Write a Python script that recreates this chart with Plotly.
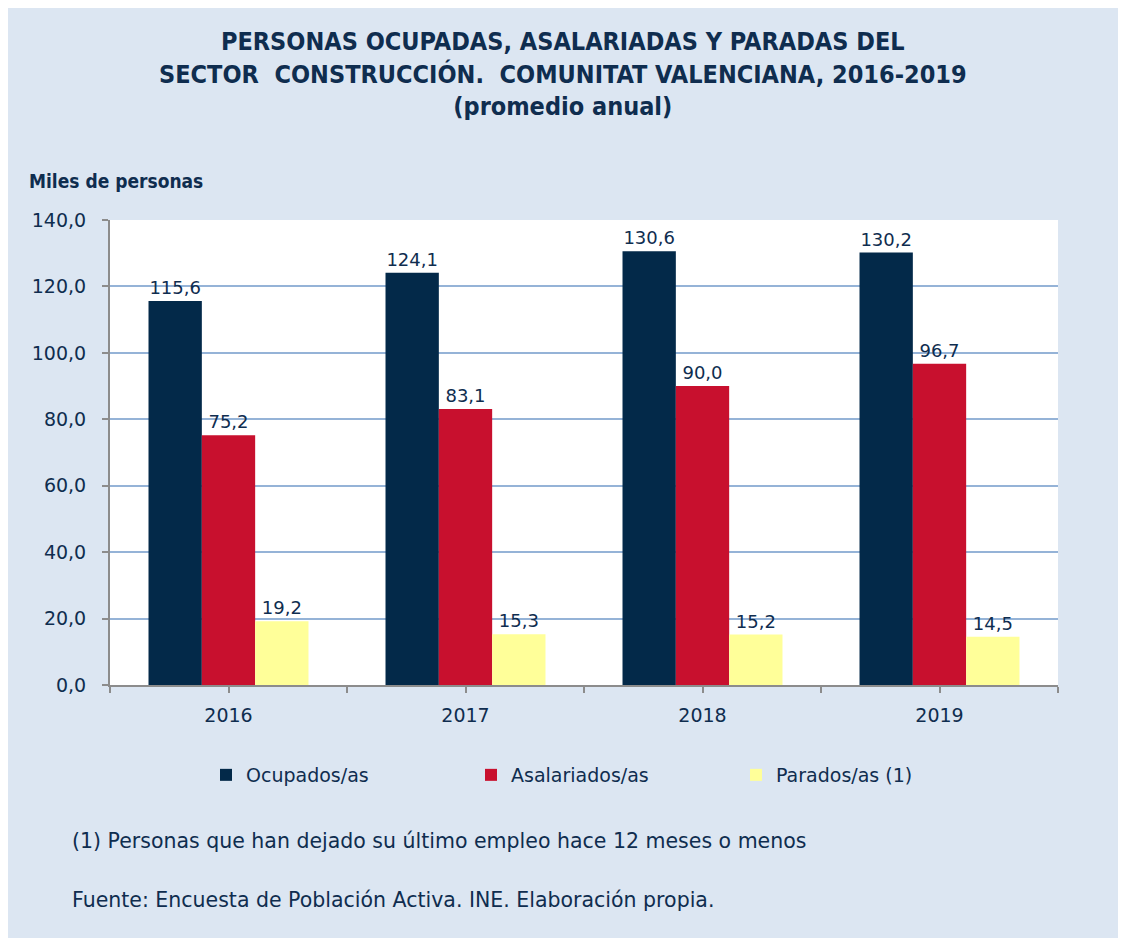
import plotly.graph_objects as go

years = ["2016", "2017", "2018", "2019"]
ocupados = [115.6, 124.1, 130.6, 130.2]
asalariados = [75.2, 83.1, 90.0, 96.7]
parados = [19.2, 15.3, 15.2, 14.5]
series_names = ["Ocupados/as", "Asalariados/as", "Parados/as (1)"]
colors = ["#032949", "#C8102E", "#FFFF99"]

navy = "#0F2D4F"
num_font = "DejaVu Sans, Verdana, sans-serif"
narrow_font = "Liberation Sans Narrow, DejaVu Sans Condensed, Arial Narrow, sans-serif"

xpos = list(range(len(years)))

fig = go.Figure()
for name, vals, col in zip(series_names, [ocupados, asalariados, parados], colors):
    fig.add_trace(go.Bar(
        x=xpos, y=vals, name=name,
        marker=dict(color=col, line=dict(width=0)),
        texttemplate="%{y:.1f}", textposition="outside",
        textfont=dict(family=num_font, size=18, color=navy),
        cliponaxis=False,
    ))

OFF = 8  # page body margin
W, H = 1126, 938
L, R, T, B = 102, 76, 212, 261
pw = W - L - R
ph = H - T - B

def px_x(px):
    return (px - OFF - L) / pw

def px_y(py):
    return (H - B - (py - OFF)) / ph

tickvals = [i / 2 - 0.5 for i in range(2 * len(years) + 1)]
ticktext = []
for v in tickvals:
    if abs(v - round(v)) < 1e-9 and 0 <= round(v) < len(years):
        ticktext.append(years[int(round(v))])
    else:
        ticktext.append("")

fig.update_layout(
    width=W, height=H,
    margin=dict(l=L, r=R, t=T, b=B, autoexpand=False),
    paper_bgcolor="#DCE6F2",
    plot_bgcolor="white",
    separators=",.",
    barmode="group",
    bargap=0.325,
    bargroupgap=0,
    showlegend=True,
    legend=dict(
        orientation="h",
        x=px_x(206), xanchor="left",
        y=px_y(775), yanchor="middle",
        entrywidth=220, entrywidthmode="pixels",
        font=dict(family=num_font, size=19, color=navy),
        bgcolor="rgba(0,0,0,0)",
        itemclick=False,
    ),
    xaxis=dict(
        range=[-0.5, len(years) - 0.5],
        tickvals=tickvals, ticktext=ticktext,
        ticks="outside", ticklen=6, tickwidth=2, tickcolor="#8C8C8C",
        ticklabelstandoff=6,
        showline=True, linecolor="#8C8C8C", linewidth=2,
        showgrid=False, zeroline=False,
        tickfont=dict(family=num_font, size=19, color=navy),
    ),
    yaxis=dict(
        range=[0, 140], dtick=20, tickformat=".1f",
        ticks="outside", ticklen=6, tickwidth=2, tickcolor="#8C8C8C",
        ticklabelstandoff=12,
        showline=True, linecolor="#8C8C8C", linewidth=2,
        showgrid=True, gridcolor="#95B3D7", gridwidth=1.5,
        zeroline=False,
        tickfont=dict(family=num_font, size=19, color=navy),
    ),
    annotations=[
        dict(text="<b>PERSONAS OCUPADAS, ASALARIADAS Y PARADAS DEL<br>SECTOR  CONSTRUCCIÓN.  COMUNITAT VALENCIANA, 2016-2019<br>(promedio anual)</b>",
             xref="paper", yref="paper", x=px_x(563), y=px_y(74),
             xanchor="center", yanchor="middle", showarrow=False,
             font=dict(family=narrow_font, size=25, color=navy)),
        dict(text="<b>Miles de personas</b>", xref="paper", yref="paper",
             x=px_x(27), y=px_y(181), xanchor="left", yanchor="middle",
             showarrow=False, font=dict(family=narrow_font, size=19, color=navy)),
        dict(text="(1) Personas que han dejado su último empleo hace 12 meses o menos",
             xref="paper", yref="paper", x=px_x(70), y=px_y(841),
             xanchor="left", yanchor="middle", showarrow=False,
             font=dict(family=num_font, size=20.5, color=navy)),
        dict(text="Fuente: Encuesta de Población Activa. INE. Elaboración propia.",
             xref="paper", yref="paper", x=px_x(70), y=px_y(900),
             xanchor="left", yanchor="middle", showarrow=False,
             font=dict(family=num_font, size=20.5, color=navy)),
    ],
)

fig.write_html("out.html")
